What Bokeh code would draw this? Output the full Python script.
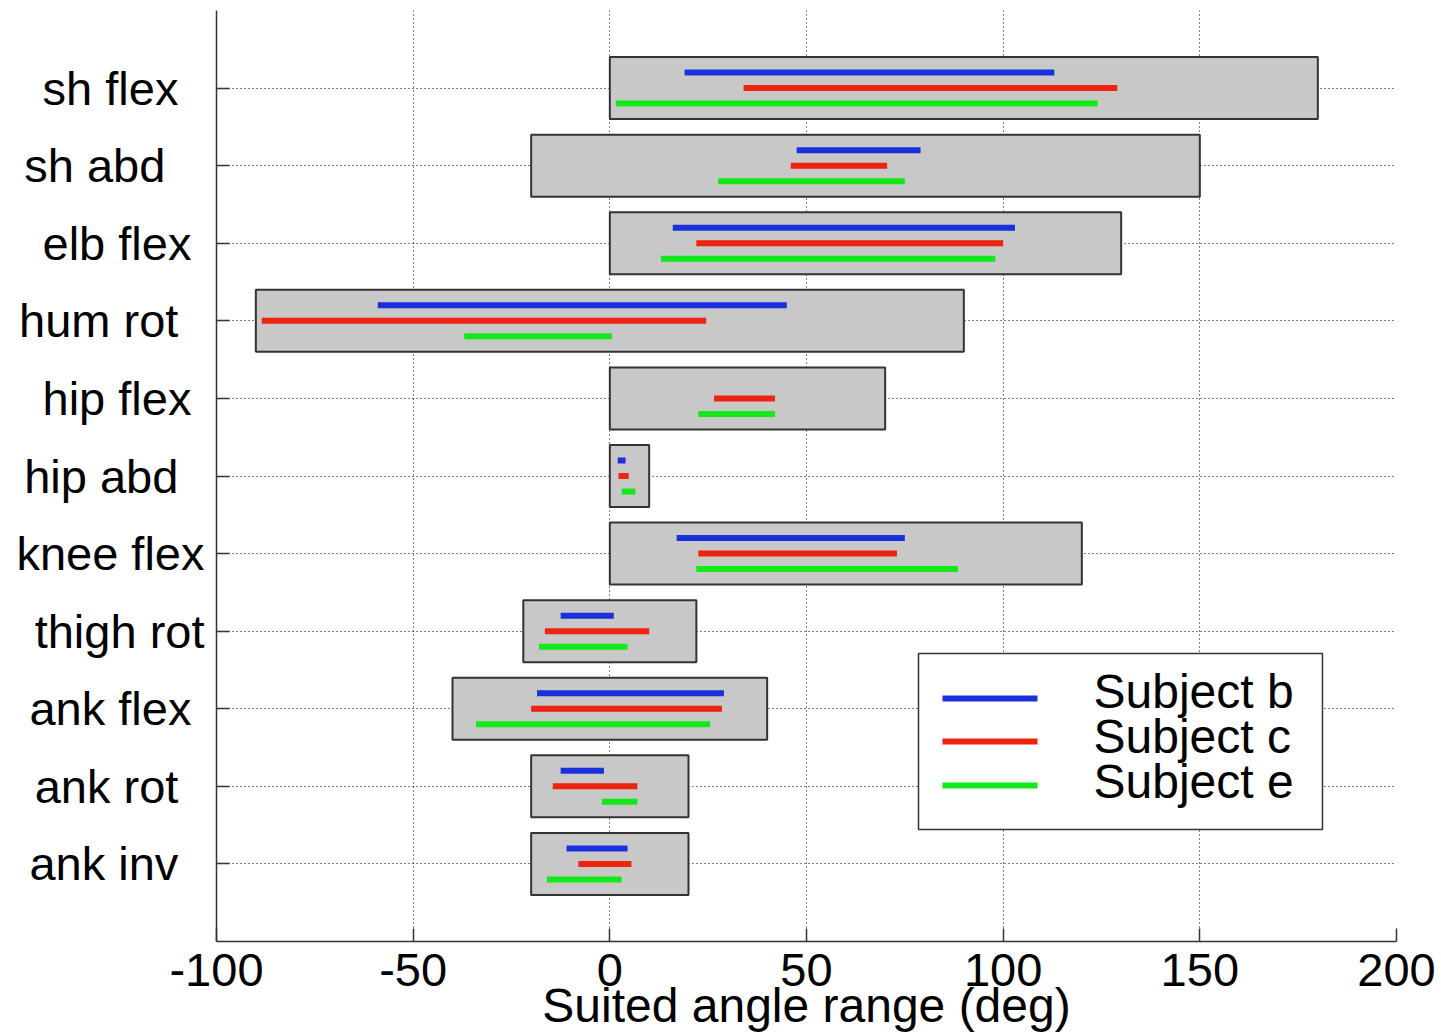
import math
from bokeh.plotting import figure
from bokeh.models import Range1d, FixedTicker, BoxAnnotation, Label, Arrow, ColumnDataSource
from bokeh.embed import file_html
from bokeh.resources import INLINE

# ---- data ----
joints = ["sh flex", "sh abd", "elb flex", "hum rot", "hip flex", "hip abd",
          "knee flex", "thigh rot", "ank flex", "ank rot", "ank inv"]
suited_lo = [0, -20, 0, -90, 0, 0, 0, -22, -40, -20, -20]
suited_hi = [180, 150, 130, 90, 70, 10, 120, 22, 40, 20, 20]

subj_b_lo = [19, 47.5, 16, -59, float("nan"), 2, 17, -12.5, -18.5, -12.5, -11]
subj_b_hi = [113, 79, 103, 45, float("nan"), 4, 75, 1, 29, -1.5, 4.5]
subj_c_lo = [34, 46, 22, -88.5, 26.5, 2.2, 22.5, -16.5, -20, -14.5, -8]
subj_c_hi = [129, 70.5, 100, 24.5, 42, 4.8, 73, 10, 28.5, 7, 5.5]
subj_e_lo = [1.5, 27.5, 13, -37, 22.5, 3, 22, -18, -34, -2, -16]
subj_e_hi = [124, 75, 98, 0.5, 42, 6.5, 88.5, 4.5, 25.5, 7, 3]

subjects = ["Subject b", "Subject c", "Subject e"]
x_ticks = [-100, -50, 0, 50, 100, 150, 200]
x_label = "Suited angle range (deg)"

# ---- styles ----
FONT = "Liberation Sans"
colors = ["#1a30dc", "#ee2410", "#12e81a"]
offsets = [-0.2, 0.0, 0.2]
box_half = 0.4

n = len(joints)
ypos = list(range(1, n + 1))

p = figure(width=1441, height=1034, output_backend="svg", toolbar_location=None,
           x_range=Range1d(-100, 200), y_range=Range1d(n + 1, 0),
           min_border_left=216, min_border_right=45, min_border_top=10,
           min_border_bottom=93)
p.outline_line_color = None
p.background_fill_color = "white"
p.border_fill_color = "white"

# grid
p.xgrid.ticker = FixedTicker(ticks=x_ticks)
p.ygrid.ticker = FixedTicker(ticks=ypos)
for g in (p.xgrid, p.ygrid):
    g.grid_line_color = "#000000"
    g.grid_line_alpha = 1.0
    g.grid_line_dash = "1 3"
    g.grid_line_width = 1

# axes
p.xaxis.ticker = FixedTicker(ticks=x_ticks)
p.xaxis.major_label_overrides = {t: str(t) for t in x_ticks}
p.yaxis.ticker = FixedTicker(ticks=ypos)
width_chars = max(len(j) for j in joints)
p.yaxis.major_label_overrides = {y: j + "\u00a0" * (width_chars - len(j)) for y, j in zip(ypos, joints)}
for ax in (p.xaxis[0], p.yaxis[0]):
    ax.axis_line_color = "#333333"
    ax.axis_line_width = 1.5
    ax.major_tick_in = 13
    ax.major_tick_out = 0
    ax.major_tick_line_color = "#333333"
    ax.major_tick_line_width = 1.5
    ax.minor_tick_line_color = None
    ax.major_label_text_font = FONT
    ax.major_label_text_font_size = "47px"
    ax.major_label_text_color = "black"
p.xaxis.major_label_standoff = 12
p.yaxis.major_label_standoff = 12
p.xaxis.axis_label = x_label
p.xaxis.axis_label_text_font = FONT
p.xaxis.axis_label_text_font_size = "48px"
p.xaxis.axis_label_text_font_style = "normal"
p.xaxis.axis_label_text_color = "black"
p.xaxis.axis_label_standoff = -10

# suited range boxes
box_src = ColumnDataSource(dict(
    left=suited_lo, right=suited_hi,
    top=[y - box_half for y in ypos], bottom=[y + box_half for y in ypos]))
p.quad(left="left", right="right", top="top", bottom="bottom", source=box_src,
       fill_color="#c8c8c8", line_color="#333333", line_width=2)

# subject ranges
for lo, hi, col, off in zip([subj_b_lo, subj_c_lo, subj_e_lo],
                            [subj_b_hi, subj_c_hi, subj_e_hi], colors, offsets):
    x0, x1, yy = [], [], []
    for a, b, y in zip(lo, hi, ypos):
        if math.isnan(a) or math.isnan(b):
            continue
        x0.append(a); x1.append(b); yy.append(y + off)
    src = ColumnDataSource(dict(x0=x0, x1=x1, y=yy))
    p.segment(x0="x0", y0="y", x1="x1", y1="y", source=src,
              line_color=col, line_width=6, line_cap="butt")

# legend (manual, screen units relative to frame bottom-left)
p.add_layout(BoxAnnotation(left=702, right=1106, top=288, bottom=112,
                           left_units="screen", right_units="screen",
                           top_units="screen", bottom_units="screen",
                           fill_color="white", fill_alpha=1.0,
                           line_color="#333333", line_alpha=1.0, line_width=1.5))
line_y = [243, 200, 156]
text_y = [250, 205, 160]
for name, col, ly, ty in zip(subjects, colors, line_y, text_y):
    p.add_layout(Arrow(end=None, x_start=726, y_start=ly, x_end=821, y_end=ly,
                       start_units="screen", end_units="screen",
                       line_color=col, line_width=6))
    p.add_layout(Label(x=877, y=ty, x_units="screen", y_units="screen", text=name,
                       text_font=FONT, text_font_size="48px", text_color="black",
                       text_baseline="alphabetic"))

open("out.html", "w").write(file_html(p, INLINE))
